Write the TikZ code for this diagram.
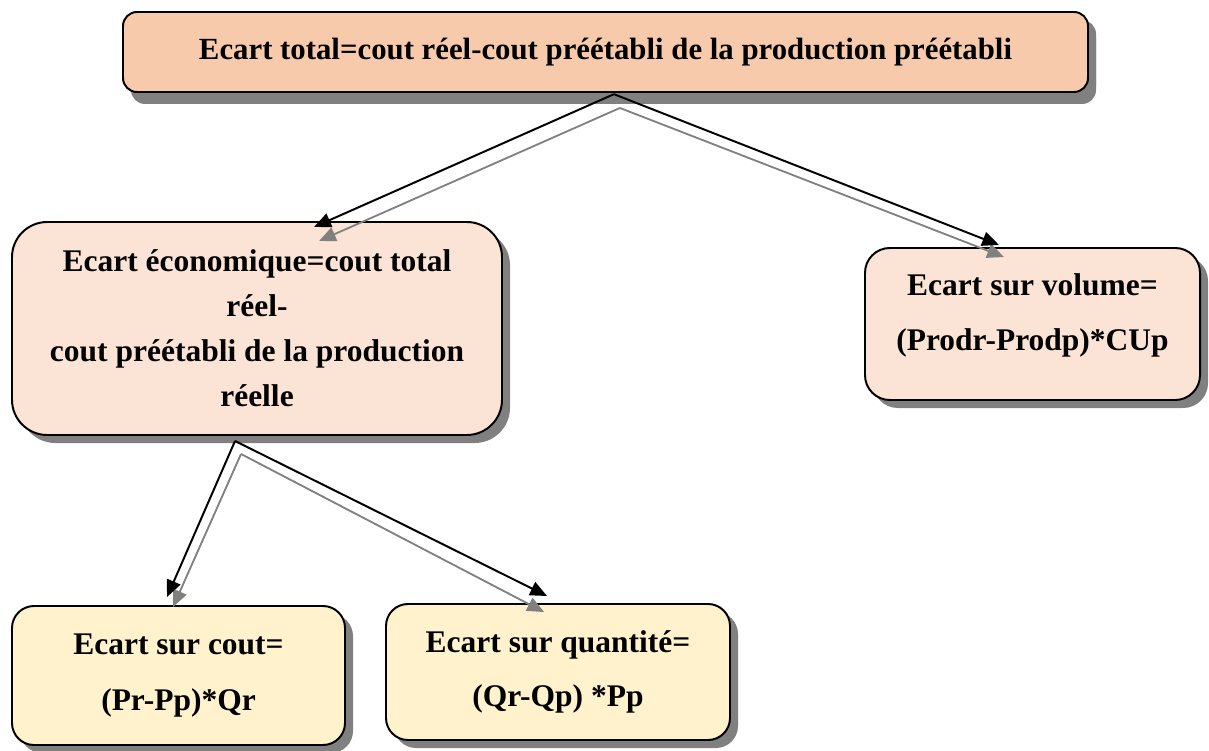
\documentclass[tikz,border=0pt]{standalone}
\usepackage{fontspec}
\setmainfont{Liberation Serif}
\usepackage{tikz}
\usetikzlibrary{arrows.meta}
\usetikzlibrary{shadows, calc}

\definecolor{peach}{HTML}{F7CAAC}
\definecolor{lightpeach}{HTML}{FBE4D5}
\definecolor{lightyellow}{HTML}{FFF2CC}
\definecolor{shadowgray}{HTML}{808080}
\definecolor{arrowgray}{HTML}{808080}

\tikzset{
  ecart/.style={rectangle, draw=black, line width=1.4pt, align=center,
    inner sep=0pt,
    drop shadow={shadow xshift=0.2cm, shadow yshift=-0.2cm,
                 fill=shadowgray, opacity=1}},
  txt/.style={font=\fontsize{22.4}{#1}\selectfont\bfseries}
}

\begin{document}
\begin{tikzpicture}
\useasboundingbox (0,0) rectangle (30.225,-18.775);

\begin{scope}[every node/.style={ecart}]
    \node (top) [fill=peach, rounded corners=0.35cm,
                 font=\fontsize{21.9}{32}\selectfont\bfseries,
                 drop shadow={shadow xshift=0.2cm, shadow yshift=-0.3cm,
                              fill=shadowgray, opacity=1},
                 minimum width=24.125cm, minimum height=2cm]
        at (15.1375,-1.3) {Ecart total=cout réel-cout préétabli de la production préétabli};
    \node (econ) [fill=lightpeach, rounded corners=0.88cm, txt=32pt,
                  minimum width=12.25cm, minimum height=5.325cm]
        at (6.425,-8.2125) {Ecart économique=cout total\\réel-\\cout préétabli de la production\\réelle};
    \node (vol) [fill=lightpeach, rounded corners=0.62cm, txt=39pt,
                 text depth=17pt,
                 minimum width=8.375cm, minimum height=3.8cm]
        at (25.8125,-8.1) {Ecart sur volume=\\(Prodr-Prodp)*CUp};
    \node (cout) [fill=lightyellow, rounded corners=0.55cm, txt=40pt,
                  minimum width=8.325cm, minimum height=3.475cm]
        at (4.4625,-16.8875) {Ecart sur cout=\\(Pr-Pp)*Qr};
    \node (qte) [fill=lightyellow, rounded corners=0.55cm, txt=38pt,
                 minimum width=8.6cm, minimum height=3.4cm]
        at (13.95,-16.8) {Ecart sur quantité=\\(Qr-Qp) *Pp};
\end{scope}

% points de depart des fleches
\coordinate (split1) at ($(top.south)+(0.21,-0.03)$);
\coordinate (gsplit1) at ($(top.south)+(0.36,-0.375)$);
\coordinate (split2) at ($(econ.south west)+(5.6,-0.125)$);
\coordinate (gsplit2) at ($(econ.south west)+(5.75,-0.45)$);

\begin{scope}[>={Triangle[length=0.42cm,width=0.36cm]},
              every edge/.style={draw=arrowgray,line width=1.3pt}]
    \path [->] (gsplit1) edge ($(econ.north west)+(7.7,-0.5)$);
    \path [->] (gsplit1) edge ($(vol.north west)+(3.5,-0.25)$);
    \path [->] (gsplit2) edge ($(cout.north west)+(4.05,-0.05)$);
    \path [->] (gsplit2) edge ($(qte.north west)+(3.975,-0.225)$);
\end{scope}

\begin{scope}[>={Triangle[length=0.42cm,width=0.36cm]},
              every edge/.style={draw=black,line width=1.4pt}]
    \path [->] (split1) edge ($(econ.north west)+(7.575,-0.15)$);
    \path [->] (split1) edge ($(vol.north west)+(3.375,0.05)$);
    \path [->] (split2) edge ($(cout.north west)+(3.9,0.2)$);
    \path [->] (split2) edge ($(qte.north west)+(4.05,0.175)$);
\end{scope}
\end{tikzpicture}
\end{document}
